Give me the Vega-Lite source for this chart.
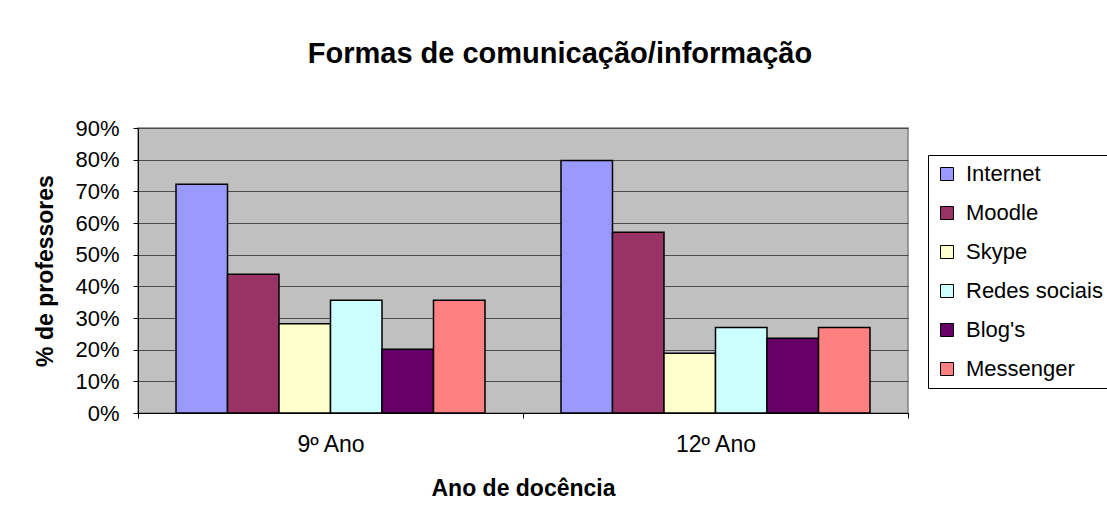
{
  "$schema": "https://vega.github.io/schema/vega-lite/v6.json",
  "autosize": {"type": "none"},
  "padding": {"left": 138, "top": 128, "right": 199, "bottom": 110},
  "width": 770,
  "height": 285,
  "background": "white",
  "title": {
    "text": "Formas de comunicação/informação",
    "font": "Liberation Sans",
    "fontSize": 29,
    "fontWeight": "bold",
    "color": "black",
    "anchor": "middle",
    "dx": 37,
    "offset": 48
  },
  "data": {
    "values": [
      {"ano": "9º Ano", "forma": "Internet", "pct": 0.722},
      {"ano": "9º Ano", "forma": "Moodle", "pct": 0.438},
      {"ano": "9º Ano", "forma": "Skype", "pct": 0.282},
      {"ano": "9º Ano", "forma": "Redes sociais", "pct": 0.356},
      {"ano": "9º Ano", "forma": "Blog's", "pct": 0.201},
      {"ano": "9º Ano", "forma": "Messenger", "pct": 0.356},
      {"ano": "12º Ano", "forma": "Internet", "pct": 0.797},
      {"ano": "12º Ano", "forma": "Moodle", "pct": 0.571},
      {"ano": "12º Ano", "forma": "Skype", "pct": 0.189},
      {"ano": "12º Ano", "forma": "Redes sociais", "pct": 0.270},
      {"ano": "12º Ano", "forma": "Blog's", "pct": 0.236},
      {"ano": "12º Ano", "forma": "Messenger", "pct": 0.270}
    ]
  },
  "mark": {"type": "bar", "stroke": "black", "strokeWidth": 1.5},
  "encoding": {
    "x": {
      "field": "ano",
      "type": "nominal",
      "sort": ["9º Ano", "12º Ano"],
      "scale": {"paddingInner": 0, "paddingOuter": 0},
      "axis": {
        "title": "Ano de docência",
        "labelAngle": 0,
        "tickBand": "extent",
        "tickSize": 5,
        "tickColor": "black",
        "domainColor": "black",
        "labelFont": "Liberation Sans",
        "labelFontSize": 23,
        "labelColor": "black",
        "labelPadding": 15,
        "titleFont": "Liberation Sans",
        "titleFontSize": 23,
        "titleFontWeight": "bold",
        "titleColor": "black",
        "titlePadding": 21
      }
    },
    "xOffset": {
      "field": "forma",
      "type": "nominal",
      "sort": ["Internet", "Moodle", "Skype", "Redes sociais", "Blog's", "Messenger"],
      "scale": {"paddingInner": 0, "paddingOuter": 0.738}
    },
    "y": {
      "field": "pct",
      "type": "quantitative",
      "scale": {"domain": [0, 0.9], "nice": false},
      "axis": {
        "title": "% de professores",
        "format": ".0%",
        "values": [0, 0.1, 0.2, 0.3, 0.4, 0.5, 0.6, 0.7, 0.8, 0.9],
        "grid": true,
        "gridColor": "#4a4a4a",
        "gridWidth": 1,
        "tickSize": 5,
        "tickColor": "black",
        "domainColor": "black",
        "labelFont": "Liberation Sans",
        "labelFontSize": 22,
        "labelColor": "black",
        "labelPadding": 14,
        "titleFont": "Liberation Sans",
        "titleFontSize": 23,
        "titleFontWeight": "bold",
        "titleColor": "black",
        "titleX": -81
      }
    },
    "color": {
      "field": "forma",
      "type": "nominal",
      "sort": ["Internet", "Moodle", "Skype", "Redes sociais", "Blog's", "Messenger"],
      "scale": {
        "domain": ["Internet", "Moodle", "Skype", "Redes sociais", "Blog's", "Messenger"],
        "range": ["#9999FF", "#993366", "#FFFFCC", "#CCFFFF", "#660066", "#FF8080"]
      },
      "legend": {
        "title": null,
        "orient": "none",
        "legendX": 790,
        "legendY": 27,
        "strokeColor": "black",
        "fillColor": "white",
        "padding": 8,
        "symbolType": "square",
        "symbolSize": 169,
        "symbolStrokeColor": "black",
        "symbolStrokeWidth": 1,
        "symbolOpacity": 1,
        "labelFont": "Liberation Sans",
        "labelFontSize": 22,
        "labelColor": "black",
        "labelOffset": 8,
        "rowPadding": 17
      }
    }
  },
  "config": {
    "view": {"fill": "#C0C0C0", "stroke": "#808080", "strokeWidth": 1.5}
  }
}
